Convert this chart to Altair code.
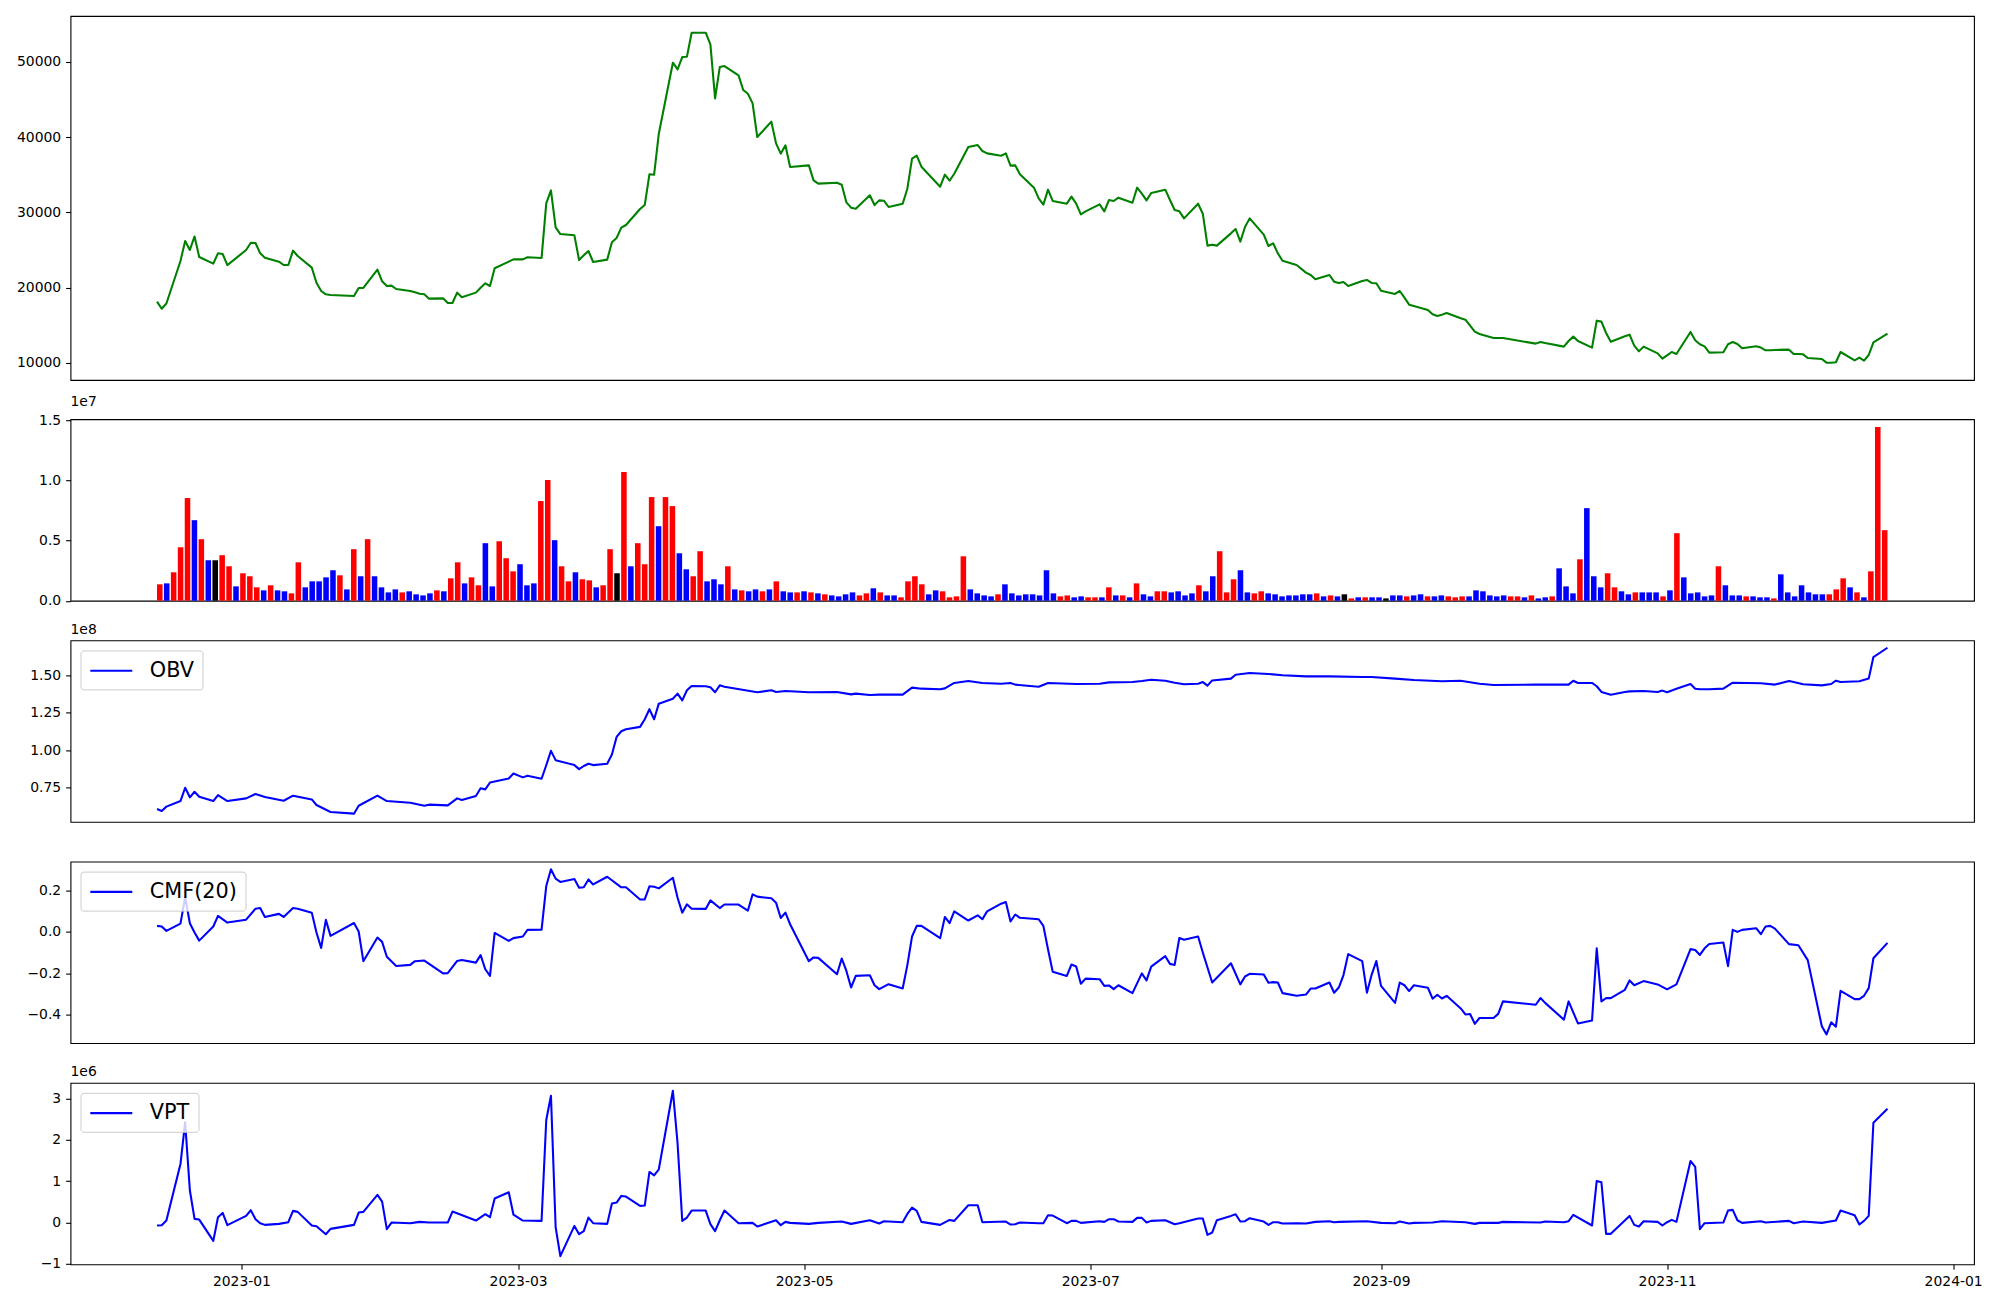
import altair as alt
import pandas as pd

# ---------------- data ----------------
holidays = ["2022-12-30", "2023-01-23", "2023-01-24", "2023-03-01", "2023-05-01",
            "2023-05-05", "2023-05-29", "2023-06-06", "2023-08-15", "2023-09-28",
            "2023-09-29", "2023-10-02", "2023-10-03", "2023-10-09"]
dates = pd.date_range("2022-12-14", "2023-12-18",
                      freq=pd.offsets.CustomBusinessDay(holidays=holidays))
date_str = [d.strftime("%Y-%m-%d") for d in dates]

price = [
    18140, 17200, 17900, 23540, 26200, 25000, 26800, 24070, 23190, 24560, 24470, 23000,
    25000, 25970, 25930, 24560, 23980, 23450, 23010, 23010, 24910, 24200, 22660, 20660,
    19560, 19120, 19030, 18890, 19960, 19960, 22390, 20840,
    20220, 20270, 19820, 19560, 19380, 19200, 19120, 18540, 18580, 17970, 17970, 19340,
    18720, 19340, 20000, 20580, 20220, 22570, 23450, 23760,
    23760, 24030, 23940, 31200, 32920, 28010, 27120, 26950, 23670, 24290, 24870, 23410,
    23720, 26020, 26590, 27970, 28320, 30440, 30970, 35050, 35000, 40440,
    49870, 48980, 50620, 50670, 53850, 53850, 52300, 45130, 49290, 49430, 48190, 46240,
    45750, 44470, 40000, 42040, 39160, 37790, 38900, 36020,
    36240, 34250, 33810, 33940, 33670, 31330, 30620, 30490, 32260, 30970, 31590, 31550,
    30710, 31150, 33140, 37130, 37520, 36060, 33410, 35000,
    34200, 35130, 38670, 38940, 38140, 37830, 37520, 37830, 36200, 36240, 35050, 33280,
    31860, 31020, 33010, 31510, 31150, 32080, 31150, 29740, 30130,
    31060, 30130, 31640, 31510, 31950, 31280, 33280, 32480, 31590, 32570, 33010, 31640,
    30310, 30130, 29200, 31150, 29820, 25580, 25710, 25580, 27210,
    27790, 26110, 28050, 29200, 27040, 25530, 25890, 24560, 23580, 23010, 21990, 21680,
    21110, 21680, 20800, 20620, 20750, 20220, 20890, 21020, 20620, 20580,
    19600, 19160, 19560, 18670, 17740, 17570, 17040, 16460, 16240, 16420, 16640, 15930,
    15750, 14960, 14160, 13850, 13320, 13320, 13320,
    12570, 12790, 12650, 12170, 12920, 13500, 12920, 12040, 15620, 15490, 13980, 12830,
    13540, 13760, 12300, 11550, 12170, 11280, 10570,
    11020, 11460, 11190, 14120, 13010, 12480, 12210, 11370, 11420, 12480, 12790, 12520,
    11950, 12210, 12040, 11680, 11680, 11730, 11770, 11190, 11190, 11150,
    10660, 10530, 10040, 10040, 10090, 11460, 10350, 10710, 10310, 11060, 12740, 13890,
]

volume_m = [
    1.36, 1.44, 2.36, 4.44, 8.53, 6.69, 5.11, 3.36, 3.36, 3.78,
    2.86, 1.19, 2.28, 2.03, 1.11, 0.86, 1.28, 0.86, 0.78, 0.61,
    3.19, 1.11, 1.61, 1.61, 1.94, 2.53, 2.11, 0.94, 4.28, 2.03,
    5.11, 2.03, 1.11, 0.69, 0.94, 0.69, 0.78, 0.53, 0.44, 0.61,
    0.86, 0.78, 1.86, 3.19, 1.44, 1.94, 1.28, 4.78, 1.19, 4.94,
    3.53, 2.44, 3.03, 1.28, 1.44, 8.28, 10.03, 5.03, 2.86, 1.61,
    2.36, 1.78, 1.69, 1.11, 1.28, 4.28, 2.28, 10.69, 2.86, 4.78,
    3.03, 8.61, 6.19, 8.61, 7.86, 3.94, 2.61, 2.03, 4.11, 1.61,
    1.78, 1.36, 2.86, 0.94, 0.86, 0.78, 0.94, 0.78, 0.94, 1.61,
    0.78, 0.69, 0.69, 0.78, 0.69, 0.61, 0.53, 0.44, 0.36, 0.53,
    0.69, 0.44, 0.61, 1.03, 0.69, 0.44, 0.44, 0.28, 1.61, 2.03,
    1.36, 0.53, 0.86, 0.78, 0.28, 0.36, 3.69, 0.94, 0.61, 0.44,
    0.36, 0.53, 1.36, 0.61, 0.44, 0.53, 0.53, 0.44, 2.53, 0.61,
    0.36, 0.44, 0.28, 0.36, 0.28, 0.28, 0.28, 1.11, 0.44, 0.44,
    0.28, 1.44, 0.53, 0.36, 0.78, 0.78, 0.69, 0.78, 0.44, 0.61,
    1.28, 0.78, 2.03, 4.11, 0.69, 1.78, 2.53, 0.69, 0.61, 0.78,
    0.61, 0.53, 0.36, 0.44, 0.44, 0.53, 0.53, 0.61, 0.36, 0.44,
    0.36, 0.53, 0.19, 0.28, 0.28, 0.28, 0.28, 0.19, 0.44, 0.44,
    0.36, 0.44, 0.53, 0.36, 0.36, 0.44, 0.36, 0.28, 0.36, 0.36,
    0.86, 0.78, 0.44, 0.36, 0.44, 0.36, 0.36, 0.28, 0.44, 0.19,
    0.28, 0.36, 2.69, 1.19, 0.61, 3.44, 7.69, 2.03, 1.11, 2.28,
    1.11, 0.78, 0.53, 0.69, 0.69, 0.69, 0.69, 0.36, 0.86, 5.61,
    1.94, 0.61, 0.69, 0.36, 0.44, 2.86, 1.28, 0.44, 0.44, 0.36,
    0.36, 0.28, 0.28, 0.19, 2.19, 0.69, 0.36, 1.28, 0.69, 0.53,
    0.53, 0.53, 0.94, 1.86, 1.11, 0.69, 0.28, 2.44, 14.44, 5.86,
]

bar_colors = ("rbrrrbrbkr" "rbrrrbrbbr" "rbbbbbrbrb" "rbbbbrbbbb" "rbrrbrrbbr"
              "rrbbbrrbrr" "brrbrrkrbr" "rrbrrbbrrb" "bbrbrbbrbr" "bbrbrbrbbb"
              "brrbrbbrrr" "rbbrrrrbbb" "brbbbbbbbb" "rrbbrrbrbr" "brbbrrbbbb"
              "rbbrrrbbrr" "bbbbbbbrbr" "bkrbrbbkbb" "rbbrbbrrrb" "bbbbbrrbrb"
              "brbbbrbbbr" "rbbrbbbrbr" "bbbbbrbbbr" "bbbrbbbbbb" "brrrbrbrrr")

# (trading-day index, value in 1e8)
obv_points = [
    (0, .608), (1, .595), (2, .624), (3, .661), (4, .750), (5, .686), (6, .723), (7, .690),
    (8, .661), (9, .701), (10, .680), (11, .661), (12, .679), (14, .708), (16, .688),
    (18, .663), (20, .697), (22, .672), (23, .635), (26, .588), (27, .577), (28, .630),
    (30, .697), (32, .661), (35, .650), (38, .630), (39, .637), (41, .632), (43, .679),
    (44, .668), (45, .695), (46, .746), (47, .739), (48, .785), (50, .812), (51, .845),
    (52, .819), (53, .830), (54, .810), (55, .900), (56, .996), (57, .934), (59, .901),
    (60, .874), (61, .895), (62, .910), (63, .901), (64, .910), (65, .972), (66, 1.089),
    (67, 1.127), (68, 1.140), (69, 1.156), (70, 1.207), (71, 1.274), (72, 1.207),
    (73, 1.311), (74, 1.344), (75, 1.378), (76, 1.333), (77, 1.400), (78, 1.429),
    (79, 1.427), (80, 1.420), (81, 1.387), (82, 1.433), (83, 1.424), (88, 1.387),
    (89, 1.400), (90, 1.389), (92, 1.395), (94, 1.387), (97, 1.389), (100, 1.373),
    (101, 1.378), (102, 1.369), (104, 1.371), (107, 1.371), (109, 1.418), (111, 1.411),
    (112, 1.407), (113, 1.413), (115, 1.449), (116, 1.462), (118, 1.449), (120, 1.444),
    (122, 1.449), (123, 1.438), (126, 1.424), (128, 1.449), (132, 1.442), (135, 1.444),
    (137, 1.453), (140, 1.455), (142, 1.462), (144, 1.471), (145, 1.464), (147, 1.451),
    (149, 1.440), (150, 1.444), (151, 1.455), (152, 1.431), (153, 1.466), (155, 1.478),
    (156, 1.504), (159, 1.515), (161, 1.509), (164, 1.500), (166, 1.493), (169, 1.493),
    (174, 1.489), (176, 1.489), (179, 1.478), (183, 1.469), (187, 1.460), (189, 1.464),
    (193, 1.444), (194, 1.435), (197, 1.438), (200, 1.438), (201, 1.438), (202, 1.464),
    (203, 1.449), (204, 1.449), (205, 1.427), (206, 1.389), (208, 1.371), (209, 1.389),
    (210, 1.393), (213, 1.395), (214, 1.389), (215, 1.398), (216, 1.387), (218, 1.411),
    (219, 1.442), (220, 1.411), (221, 1.407), (223, 1.407), (224, 1.411), (226, 1.451),
    (230, 1.447), (233, 1.438), (234, 1.462), (235, 1.455), (237, 1.440), (239, 1.433),
    (241, 1.442), (242, 1.464), (243, 1.455), (245, 1.460), (247, 1.478), (248, 1.622),
    (249, 1.684),
]

cmf_points = [
    (0, .029), (1, .026), (2, .005), (3, .040), (4, .168), (5, .042), (6, -.003), (7, -.042),
    (8, .026), (9, .077), (11, .045), (12, .059), (14, .112), (15, .115), (16, .072),
    (17, .087), (18, .072), (20, .115), (21, .112), (22, .093), (23, -.003), (24, -.077),
    (25, .058), (26, -.019), (27, .043), (28, .002), (29, -.141), (30, -.027), (31, -.048),
    (32, -.120), (34, -.164), (35, -.159), (36, -.141), (38, -.138), (40, -.200),
    (41, -.199), (43, -.140), (44, -.135), (45, -.148), (46, -.112), (47, -.180),
    (48, -.212), (49, -.005), (50, -.043), (51, -.030), (52, -.022), (53, .010), (54, .011),
    (55, .221), (56, .302), (57, .257), (58, .241), (59, .255), (60, .213), (61, .215),
    (62, .253), (63, .229), (64, .266), (67, .215), (68, .215), (69, .156), (70, .157),
    (71, .220), (72, .218), (73, .210), (74, .261), (75, .165), (76, .093), (77, .133),
    (78, .112), (79, .111), (80, .152), (82, .115), (83, .132), (84, .132), (86, .103),
    (87, .181), (88, .170), (89, .162), (90, .141), (91, .067), (92, .093), (93, .037),
    (94, -.141), (95, -.123), (96, -.125), (97, -.204), (98, -.128), (99, -.188),
    (100, -.268), (101, -.212), (102, -.209), (103, -.257), (104, -.276), (106, -.252),
    (107, -.273), (108, -.160), (109, -.022), (110, .029), (111, .029), (112, -.030),
    (113, .072), (114, .042), (115, .099), (116, .055), (117, .080), (118, .061),
    (119, .099), (120, .136), (121, .144), (122, .050), (123, .084), (124, .068),
    (126, .061), (127, .029), (128, -.085), (129, -.192), (130, -.212), (131, -.157),
    (132, -.167), (133, -.250), (134, -.225), (135, -.228), (136, -.260), (137, -.258),
    (138, -.276), (139, -.257), (140, -.295), (142, -.200), (143, -.234), (144, -.167),
    (145, -.117), (146, -.154), (147, -.159), (148, -.029), (149, -.038), (150, -.022),
    (151, -.099), (153, -.244), (155, -.151), (157, -.253), (158, -.215), (159, -.202),
    (160, -.205), (161, -.245), (162, -.242), (163, -.244), (164, -.295), (165, -.308),
    (166, -.302), (167, -.273), (168, -.273), (169, -.244), (170, -.293), (171, -.268),
    (172, -.208), (173, -.107), (174, -.141), (175, -.293), (176, -.207), (177, -.140),
    (178, -.260), (179, -.342), (180, -.244), (181, -.257), (182, -.285), (183, -.257),
    (184, -.269), (185, -.322), (186, -.303), (187, -.321), (188, -.308), (189, -.369),
    (190, -.398), (191, -.396), (192, -.443), (193, -.415), (194, -.415), (195, -.395),
    (196, -.335), (197, -.351), (198, -.319), (199, -.342), (200, -.423), (201, -.335),
    (203, -.441), (204, -.427), (205, -.079), (206, -.335), (207, -.319), (208, -.319),
    (209, -.279), (210, -.234), (211, -.257), (213, -.237), (214, -.253), (216, -.277),
    (218, -.253), (219, -.083), (220, -.087), (221, -.111), (222, -.079), (223, -.058),
    (224, -.051), (225, -.165), (226, .010), (227, .000), (228, .010), (229, .018),
    (230, -.011), (231, .026), (232, .029), (233, .016), (234, -.059), (236, -.064),
    (238, -.136), (239, -.455), (240, -.494), (241, -.436), (242, -.457), (243, -.284),
    (244, -.324), (245, -.324), (246, -.308), (247, -.271), (248, -.127), (249, -.053),
]

# (trading-day index, value in 1e6)
vpt_points = [
    (0, -.072), (1, -.064), (2, .048), (3, 1.417), (4, 2.424), (5, .781), (6, .089),
    (7, .072), (8, -.443), (9, .129), (10, .233), (11, -.064), (12, .161), (13, .298),
    (14, .081), (15, -.016), (16, -.056), (17, -.032), (19, .008), (20, .282), (21, .258),
    (22, -.072), (23, -.089), (25, -.282), (26, -.153), (27, -.056), (28, .242), (29, .258),
    (30, .668), (31, .507), (32, -.161), (33, .000), (35, -.016), (37, .016), (39, .000),
    (41, .000), (42, .266), (45, .048), (47, .201), (48, .129), (49, .580), (50, .733),
    (51, .193), (52, .048), (54, .040), (55, 2.480), (56, 3.068), (57, -.113), (58, -.813),
    (59, -.081), (60, -.282), (61, -.209), (62, .121), (63, -.016), (64, -.032), (65, .459),
    (66, .483), (67, .644), (68, .628), (69, .403), (70, .411), (71, 1.224), (72, 1.143),
    (73, 1.288), (74, 3.188), (75, 1.916), (76, .040), (77, .121), (78, .290), (79, .290),
    (80, -.040), (81, -.209), (82, .056), (83, .290), (84, -.016), (87, -.008), (88, -.097),
    (90, .056), (91, -.064), (92, .016), (93, -.008), (94, -.032), (96, -.008), (98, .024),
    (100, -.032), (102, .056), (104, -.024), (105, .032), (107, .008), (108, .209),
    (109, .362), (110, .282), (111, .016), (112, -.056), (114, .064), (115, .040),
    (116, .419), (117, .419), (118, .008), (121, .024), (122, -.048), (123, -.040),
    (124, .000), (126, -.016), (127, -.016), (128, .177), (129, .169), (130, -.016),
    (131, .040), (132, .040), (133, -.008), (135, .032), (136, .016), (137, .081),
    (138, .081), (139, .024), (140, .016), (141, .113), (142, .113), (143, .000),
    (144, .040), (145, .056), (147, -.040), (148, -.016), (150, .097), (151, .097),
    (152, -.298), (153, -.242), (154, .056), (155, .161), (156, .201), (157, .024),
    (158, .032), (159, .105), (160, .024), (161, -.056), (162, .008), (163, .008),
    (164, -.024), (165, -.016), (166, -.024), (168, .016), (169, .032), (170, .008),
    (171, .016), (175, .032), (178, -.008), (179, -.016), (180, .024), (182, -.024),
    (183, -.008), (185, .000), (187, .032), (190, .008), (192, -.032), (193, -.008),
    (195, -.008), (196, .016), (198, .000), (199, .024), (200, .008), (201, .032),
    (202, .185), (204, -.072), (205, 1.006), (206, .974), (207, -.274), (208, -.274),
    (210, .161), (211, -.056), (212, -.097), (213, .032), (214, .016), (215, -.072),
    (216, .008), (217, .064), (218, .016), (219, 1.490), (220, 1.345), (221, -.161),
    (222, -.016), (224, .000), (225, .290), (226, .306), (227, .056), (228, -.008),
    (230, .032), (231, .000), (234, .040), (235, -.016), (237, .024), (239, -.008),
    (242, .048), (243, .290), (244, .177), (245, -.048), (246, .040), (247, .161),
    (248, 2.415), (249, 2.754),
]

assert len(date_str) == 250 and len(price) == 250
assert len(volume_m) == 250 and len(bar_colors) == 250

df_price = pd.DataFrame({"date": date_str, "close": price})
df_vol = pd.DataFrame({"idx": list(range(250)),
                       "volume": [v * 1e6 for v in volume_m],
                       "c": list(bar_colors)})
df_obv = pd.DataFrame({"date": [date_str[k] for k, _ in obv_points],
                       "value": [v * 1e8 for _, v in obv_points], "name": "OBV"})
df_cmf = pd.DataFrame({"date": [date_str[k] for k, _ in cmf_points],
                       "value": [v for _, v in cmf_points], "name": "CMF(20)"})
df_vpt = pd.DataFrame({"date": [date_str[k] for k, _ in vpt_points],
                       "value": [v * 1e6 for _, v in vpt_points], "name": "VPT"})

# ---------------- styling ----------------
FONT = "DejaVu Sans"
FS = 13.9
W = 1903.5
H1 = 364
H = 181.5
LW = 2.08

xscale = alt.Scale(type="utc", domain=[
    alt.DateTime(year=2022, month=11, date=25, hours=13, minutes=12, utc=True),
    alt.DateTime(year=2024, month=1, date=5, hours=10, minutes=48, utc=True)])
x_hidden = alt.X("date:T", scale=xscale, axis=None)
x_ticks = [alt.DateTime(year=y, month=m, date=1, utc=True)
           for y, m in [(2023, 1), (2023, 3), (2023, 5), (2023, 7), (2023, 9), (2023, 11), (2024, 1)]]
x_axis = alt.X("date:T", scale=xscale,
               axis=alt.Axis(values=x_ticks, labelExpr="utcFormat(datum.value, '%Y-%m')",
                             title=None))


def legend():
    return alt.Legend(title=None, orient="top-left", offset=10.4, padding=8.3,
                      cornerRadius=3, strokeColor="#cccccc",
                      fillColor="rgba(255,255,255,0.8)", labelFontSize=20.8,
                      labelFont=FONT, labelColor="black", symbolType="M-1,0L3,0",
                      symbolSize=441, symbolStrokeWidth=LW, labelOffset=37)


def offset_title(t):
    return alt.TitleParams(text=t, anchor="start", frame="group", fontSize=FS, font=FONT,
                           fontWeight="normal", color="black", offset=4)


p1 = alt.Chart(df_price).mark_line(color="#008000", strokeWidth=LW, strokeJoin="round").encode(
    x=x_hidden,
    y=alt.Y("close:Q", scale=alt.Scale(domain=[7740, 56070], nice=False, zero=False),
            axis=alt.Axis(values=[10000, 20000, 30000, 40000, 50000], format="d", title=None)),
).properties(width=W, height=H1)

p2 = alt.Chart(df_vol).transform_calculate(
    x0="datum.idx - 0.4", x1="datum.idx + 0.4"
).mark_bar(strokeWidth=0).encode(
    x=alt.X("x0:Q", scale=alt.Scale(domain=[-12.89, 261.89], nice=False, zero=False), axis=None),
    x2="x1:Q",
    y=alt.Y("volume:Q", scale=alt.Scale(domain=[0, 1.508e7], nice=False),
            axis=alt.Axis(values=[0, 5e6, 1e7, 1.5e7],
                          labelExpr="format(datum.value / 1e7, '.1f')", title=None)),
    y2=alt.datum(0),
    color=alt.Color("c:N", scale=alt.Scale(domain=["r", "b", "k"],
                                           range=["#ff0000", "#0000ff", "#000000"]),
                    legend=None),
).properties(width=W, height=H, title=offset_title("1e7"))

p3 = alt.Chart(df_obv).mark_line(strokeWidth=LW, strokeJoin="round").encode(
    x=x_hidden,
    y=alt.Y("value:Q", scale=alt.Scale(domain=[0.522e8, 1.733e8], nice=False, zero=False),
            axis=alt.Axis(values=[0.75e8, 1.0e8, 1.25e8, 1.5e8],
                          labelExpr="format(datum.value / 1e8, '.2f')", title=None)),
    color=alt.Color("name:N", scale=alt.Scale(domain=["OBV"], range=["#0000ff"]), legend=legend()),
).properties(width=W, height=H, title=offset_title("1e8"))

p4 = alt.Chart(df_cmf).mark_line(strokeWidth=LW, strokeJoin="round").encode(
    x=x_hidden,
    y=alt.Y("value:Q", scale=alt.Scale(domain=[-0.536, 0.339], nice=False, zero=False),
            axis=alt.Axis(values=[-0.4, -0.2, 0.0, 0.2], format=".1f", title=None)),
    color=alt.Color("name:N", scale=alt.Scale(domain=["CMF(20)"], range=["#0000ff"]),
                    legend=legend()),
).properties(width=W, height=H)

p5 = alt.Chart(df_vpt).mark_line(strokeWidth=LW, strokeJoin="round").encode(
    x=x_axis,
    y=alt.Y("value:Q", scale=alt.Scale(domain=[-1.01e6, 3.38e6], nice=False, zero=False),
            axis=alt.Axis(values=[-1e6, 0, 1e6, 2e6, 3e6],
                          labelExpr="format(datum.value / 1e6, 'd')", title=None)),
    color=alt.Color("name:N", scale=alt.Scale(domain=["VPT"], range=["#0000ff"]), legend=legend()),
).properties(width=W, height=H, title=offset_title("1e6"))

chart = alt.vconcat(p1, p2, p3, p4, p5, spacing=39.2, bounds="flush").resolve_scale(
    x="independent", y="independent", color="independent"
).resolve_legend(color="independent").configure_view(
    stroke="black", strokeWidth=1.1
).configure_axis(
    tickSize=4.9, labelPadding=4.9, grid=False, domain=False, labelFont=FONT,
    labelFontSize=FS, labelColor="black", tickColor="black", tickWidth=1.1
).properties(
    padding={"left": 7.5, "top": 7, "right": 5, "bottom": 5}, background="white"
)

chart.save("out.html", embed_options={"renderer": "svg", "actions": False})
